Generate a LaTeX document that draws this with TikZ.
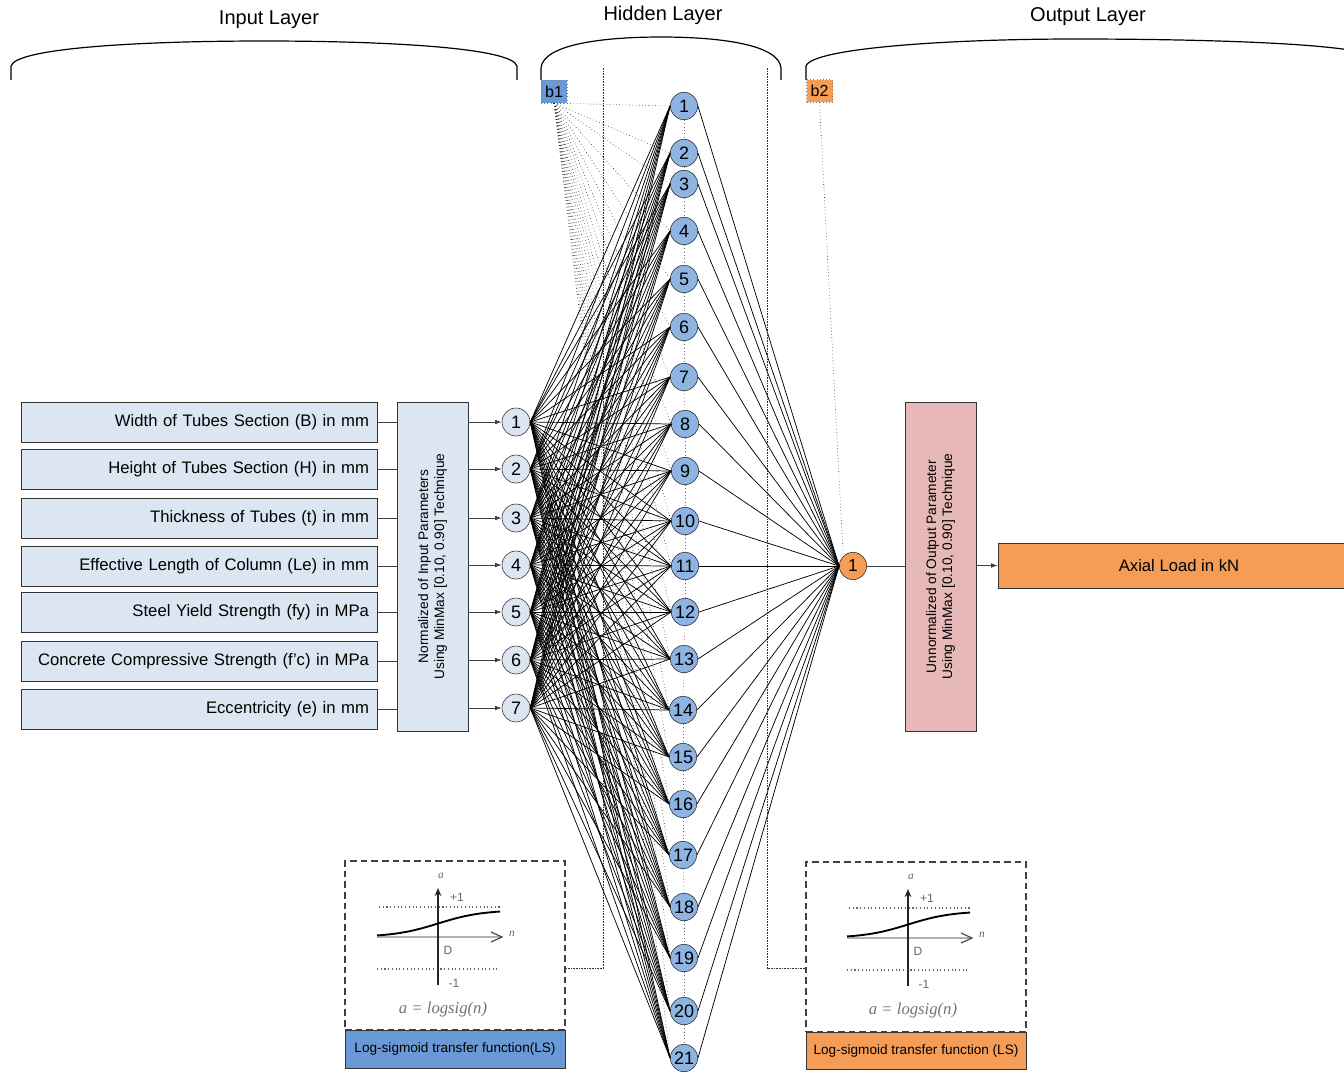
\documentclass[tikz,border=0pt]{standalone}
\usepackage{fontspec}
\setmainfont{Liberation Sans}
\newfontfamily\serifit{Liberation Serif}
\usetikzlibrary{arrows.meta}
\definecolor{lightbox}{RGB}{220,230,242}
\definecolor{hidblue}{RGB}{141,180,226}
\definecolor{darkblue}{RGB}{106,153,215}
\definecolor{orng}{RGB}{245,157,86}
\definecolor{pinkbox}{RGB}{230,184,183}
\tikzset{
 inbox/.style={draw=black!80, fill=lightbox, minimum width=267pt, minimum height=30pt, text width=255pt, align=right, inner sep=5pt, font=\fontsize{12.5}{14}\selectfont},
 tallbox/.style={draw=black!80, minimum width=53.25pt, minimum height=246.75pt, inner sep=0pt},
 rottext/.style={rotate=90, align=center, font=\fontsize{10.3}{12}\selectfont},
 innode/.style={circle, draw=black!85, fill=lightbox, minimum size=21pt, inner sep=0pt, font=\fontsize{13.5}{15}\selectfont},
 hidnode/.style={circle, draw=black!85, fill=hidblue, minimum size=20.5pt, inner sep=0pt, font=\fontsize{13.5}{15}\selectfont},
 outnode/.style={circle, draw=black!85, fill=orng, minimum size=20.5pt, inner sep=0pt, font=\fontsize{13}{15}\selectfont},
 biasbox/.style={draw=black!50, dotted, minimum width=19.5pt, minimum height=17pt, inner sep=0pt, font=\fontsize{12}{14}\selectfont},
 wire/.style={line width=0.55pt, black},
 biaswire/.style={line width=0.45pt, black!85, dotted},
 feed/.style={line width=0.6pt, black!75},
 feedarrow/.style={line width=0.6pt, black!75, -{Latex[length=5pt,width=3.5pt]}},
 bracket/.style={line width=0.9pt, black},
 sepline/.style={line width=0.6pt, black!80, dash pattern=on 1.2pt off 0.8pt},
 layertitle/.style={font=\fontsize{15}{18}\selectfont},
 sigbox/.style={draw=black!75, dash pattern=on 5pt off 3pt, line width=0.8pt, inner sep=0pt},
 siglabel/.style={draw=black!80, line width=0.6pt, inner sep=0pt, font=\fontsize{10.2}{12}\selectfont},
 sigtext/.style={text=black!60, inner sep=0pt, font=\fontsize{9}{10}\selectfont},
}
\newcommand{\mysigplot}[1]{%
 \begin{scope}[shift={#1}]
  \draw[black!60, dotted, line width=0.8pt] (34,46) -- (155,46);
  \draw[black!60, dotted, line width=0.8pt] (32,108) -- (152,108);
  \draw[black!30, line width=1.6pt] (32,76) -- (155,76);
  \draw[black!70, line width=0.9pt] (146,71) -- (157,76) -- (146,81);
  \draw[black!85, line width=1.2pt, -{Stealth[length=6pt,width=5pt]}] (93,124) -- (93,27);
  \draw[black, line width=1.4pt] plot[domain=32:155, samples=40, smooth] (\x, {76-27/(1+exp(-(\x-93)/22))});
  \node[sigtext, font=\fontsize{8.5}{9}\selectfont\serifit\itshape] at (96,15) {a};
  \node[sigtext] at (112,36) {+1};
  \node[sigtext, font=\fontsize{8.5}{9}\selectfont\serifit\itshape] at (167,73) {n};
  \node[sigtext] at (103,89) {D};
  \node[sigtext] at (109,122) {-1};
  \node[text=black!55, inner sep=0pt, font=\fontsize{12.5}{14}\selectfont\serifit\itshape] at (98,148) {a = logsig(n)};
 \end{scope}}
\begin{document}
\begin{tikzpicture}[x=0.75pt,y=-0.75pt]
\clip (0,0) rectangle (1344,1072);
\fill[white] (0,0) rectangle (1344,1072);

% layer titles and brackets
\node[layertitle] (tin) at (269,20) {Input Layer};
\node[layertitle] (thid) at (663,15) {Hidden Layer};
\node[layertitle] (tout) at (1088,17) {Output Layer};
\draw[bracket] (11,80) -- (11,66) .. controls (16,48) and (140,41) .. (264,41) .. controls (390,41) and (512,48) .. (517,66) -- (517,80);
\draw[bracket] (541,80) -- (541,68) .. controls (543,45) and (600,37) .. (661,37) .. controls (722,37) and (779,45) .. (781,68) -- (781,80);
\draw[bracket] (806,80) -- (806,66) .. controls (812,48) and (950,39) .. (1075,39) .. controls (1200,39) and (1320,43) .. (1360,52);

% input boxes
\foreach \i/\y/\t in {1/422/{Width of Tubes Section (B) in mm},
                      2/469/{Height of Tubes Section (H) in mm},
                      3/518/{Thickness of Tubes (t) in mm},
                      4/566/{Effective Length of Column (Le) in mm},
                      5/612/{Steel Yield Strength (fy) in MPa},
                      6/661/{Concrete Compressive Strength (f'c) in MPa},
                      7/709/{Eccentricity (e) in mm}}{
  \node[inbox] (ib\i) at (199,\y) {\t};
}
\node[tallbox, fill=lightbox] (norm) at (432.5,566.5) {};
\node[rottext] (normtxt) at (norm.center) {Normalized of Input Parameters\\Using MinMax [0.10, 0.90] Technique};

% input neurons
\foreach \i/\y in {1/422,2/469,3/518,4/565,5/612,6/660,7/708}{
  \node[innode] (in\i) at (516,\y) {\i};
}
\foreach \i in {1,...,7}{
  \draw[feed] (ib\i.east) -- (ib\i.east -| norm.west);
  \draw[feedarrow] (norm.east |- in\i) -- (in\i.west);
}

% hidden neurons
\foreach \i/\x/\y in {1/684/106,2/684/153,3/684/184,4/684/231,5/684/279,6/684/327,7/684/377,
                      8/685/424,9/685/471,10/685/521,11/685/566,12/685/612,13/684/659,14/683/710,
                      15/683/757,16/683/804,17/683/855,18/684/907,19/684/958,20/684/1011,21/684/1058}{
  \node[hidnode] (h\i) at (\x,\y) {\i};
}
\foreach \i [evaluate=\i as \j using int(\i+1)] in {1,...,20}{
  \draw[black!60, dotted, line width=0.5pt] (h\i.south) -- (h\j.north);
}

% bias boxes
\node[biasbox, fill=darkblue] (b1) at (554,91.5) {b1};
\node[biasbox, fill=orng] (b2) at (819.5,91) {b2};

% output side
\node[outnode] (o1) at (853,566) {1};
\node[tallbox, fill=pinkbox] (unnorm) at (940.5,566.5) {};
\node[rottext] (unnormtxt) at (unnorm.center) {Unnormalized of Output Parameter\\Using MinMax [0.10, 0.90] Technique};
\node[draw=black!80, fill=orng, minimum width=271.5pt, minimum height=33.75pt, inner sep=0pt, font=\fontsize{12.5}{14}\selectfont] (axial) at (1179,565.5) {Axial Load in kN};
\draw[feed] (o1.east) -- (o1.east -| unnorm.west);
\draw[feedarrow] (unnorm.east |- axial) -- (axial.west);

% connections
\foreach \i in {1,...,7}{
  \foreach \j in {1,...,21}{
    \draw[wire] (in\i.east) -- (h\j.west);
  }
}
\foreach \j in {1,...,21}{
  \draw[biaswire] (b1.south) -- (h\j.west);
  \draw[wire] (h\j.east) -- (o1.west);
}
\draw[biaswire] (b2.south) -- (o1.north west);

% sigmoid boxes
\node[sigbox, minimum width=165pt, minimum height=126.75pt] (sig1) at (455,945.5) {};
\node[siglabel, fill=darkblue, minimum width=165pt, minimum height=28.5pt] (ls1) at (455,1049) {Log-sigmoid transfer function(LS)};
\node[sigbox, minimum width=165pt, minimum height=127.5pt] (sig2) at (916,947) {};
\node[siglabel, fill=orng, minimum width=165pt, minimum height=27.75pt] (ls2) at (916,1050.5) {Log-sigmoid transfer function (LS)};
\mysigplot{(345,861)}
\mysigplot{(815,862)}

% separators
\coordinate (s1t) at (603,68);
\coordinate (s1b) at (603,968);
\coordinate (s2t) at (767,68);
\coordinate (s2b) at (767,968);
\draw[sepline] (s1t) -- (s1b) -- (s1b -| sig1.east);
\draw[sepline] (s2t) -- (s2b) -- (s2b -| sig2.west);
\end{tikzpicture}
\end{document}
